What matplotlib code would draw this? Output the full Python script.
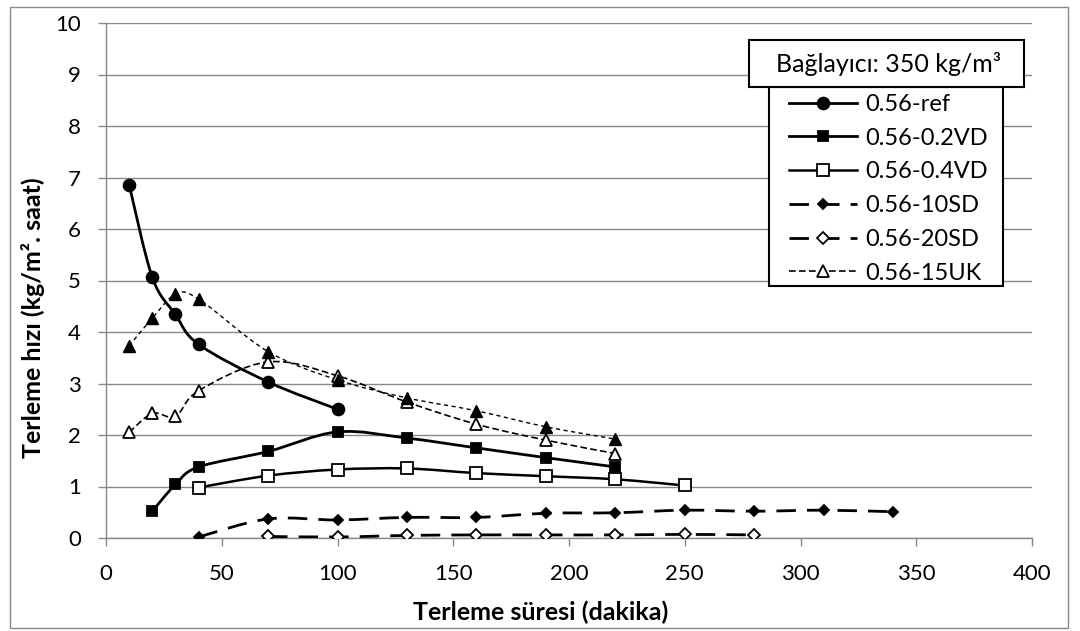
import numpy as np
import matplotlib
matplotlib.use("Agg")
import matplotlib.pyplot as plt
from matplotlib.path import Path
from matplotlib.patches import PathPatch, Rectangle
from matplotlib.lines import Line2D

plt.rcParams['font.family'] = ['Lato', 'DejaVu Sans']

# Data
x_ref = [10, 20, 30, 40, 70, 100]
y_ref = [6.86, 5.06, 4.34, 3.76, 3.03, 2.50]

x_02vd = [20, 30, 40, 70, 100, 130, 160, 190, 220]
y_02vd = [0.52, 1.04, 1.38, 1.68, 2.06, 1.94, 1.75, 1.56, 1.38]

x_04vd = [40, 70, 100, 130, 160, 190, 220, 250]
y_04vd = [0.98, 1.21, 1.33, 1.35, 1.26, 1.20, 1.14, 1.02]

x_10sd = [40, 70, 100, 130, 160, 190, 220, 250, 280, 310, 340]
y_10sd = [0.02, 0.37, 0.35, 0.40, 0.40, 0.48, 0.49, 0.54, 0.52, 0.54, 0.51]

x_20sd = [70, 100, 130, 160, 190, 220, 250, 280]
y_20sd = [0.03, 0.02, 0.05, 0.06, 0.06, 0.06, 0.07, 0.06]

x_15uk = [10, 20, 30, 40, 70, 100, 130, 160, 190, 220]
y_15uk = [2.05, 2.42, 2.36, 2.86, 3.42, 3.15, 2.64, 2.21, 1.90, 1.64]

# extra series drawn in the chart but missing from its legend
x_tri = [10, 20, 30, 40, 70, 100, 130, 160, 190, 220]
y_tri = [3.73, 4.27, 4.73, 4.64, 3.62, 3.07, 2.72, 2.47, 2.16, 1.92]

labels = ['0.56-ref', '0.56-0.2VD', '0.56-0.4VD', '0.56-10SD', '0.56-20SD', '0.56-15UK']


# Excel-like smoothed line (Catmull-Rom as cubic Bezier)
def smooth_path(xs, ys):
    p = np.column_stack([xs, ys]).astype(float)
    verts = [p[0]]
    codes = [Path.MOVETO]
    n = len(p)
    for i in range(n - 1):
        p0 = p[i - 1] if i > 0 else p[i]
        p3 = p[i + 2] if i + 2 < n else p[i + 1]
        c1 = p[i] + (p[i + 1] - p0) / 6.0
        c2 = p[i + 1] - (p3 - p[i]) / 6.0
        verts += [c1, c2, p[i + 1]]
        codes += [Path.CURVE4] * 3
    return Path(verts, codes)


fig = plt.figure(figsize=(10.8, 6.31), dpi=100)
ax = fig.add_axes([106 / 1080, 1 - 538 / 631, 926 / 1080, 515 / 631])

grey = '#898989'
fs = 16

series = [
    (x_ref, y_ref, 'o', 'black', 8.5, '-', 2.0),
    (x_02vd, y_02vd, 's', 'black', 7.5, '-', 2.0),
    (x_04vd, y_04vd, 's', 'white', 8.5, '-', 1.8),
    (x_10sd, y_10sd, 'D', 'black', 5.5, (0, (7, 4)), 2.0),
    (x_20sd, y_20sd, 'D', 'white', 6.5, (0, (7, 4)), 2.0),
    (x_15uk, y_15uk, '^', 'white', 9, (0, (4, 2)), 1.2),
]

handles = []
for xs, ys, m, fc, ms, ls, lw in series:
    ax.add_patch(PathPatch(smooth_path(xs, ys), fill=False, edgecolor='black',
                           lw=lw, ls=ls, zorder=3))
    ax.plot(xs, ys, ls='none', marker=m, ms=ms, mfc=fc, mec='black', mew=1.3, zorder=4)
    handles.append(Line2D([], [], color='black', lw=lw, ls=ls, marker=m, ms=ms,
                          mfc=fc, mec='black', mew=1.3))

ax.add_patch(PathPatch(smooth_path(x_tri, y_tri), fill=False, edgecolor='black',
                       lw=1.0, ls=(0, (3, 2.5)), zorder=3))
ax.plot(x_tri, y_tri, ls='none', marker='^', ms=8, mfc='black', mec='black', zorder=4)

ax.set_xlim(0, 400)
ax.set_ylim(0, 10)
ax.set_xticks(np.arange(0, 401, 50))
ax.set_yticks(np.arange(0, 11, 1))
ax.grid(axis='y', color=grey, lw=1.0)
ax.set_axisbelow(True)
for s in ['top', 'right']:
    ax.spines[s].set_visible(False)
for s in ['left', 'bottom']:
    ax.spines[s].set_color(grey)
    ax.spines[s].set_linewidth(1.0)
ax.tick_params(axis='both', direction='out', length=6, width=1.0, color=grey,
               labelsize=fs)
ax.tick_params(axis='x', pad=13)
ax.tick_params(axis='y', pad=12)

ax.text(0.469, (538 - 612) / 515, 'Terleme süresi (dakika)', transform=ax.transAxes,
        ha='center', va='center', fontsize=18, fontweight='bold')
ax.text(-0.079, 0.427, 'Terleme hızı (kg/m². saat)', transform=ax.transAxes,
        ha='center', va='center', rotation=90, fontsize=18, fontweight='bold')

# legend frame drawn by hand, with a separate title box on top
fig.patches.append(Rectangle((769 / 1080, 1 - 286 / 631), 234 / 1080, 199 / 631,
                             transform=fig.transFigure, facecolor='white',
                             edgecolor='black', lw=1.5, zorder=4))
leg = fig.legend(handles, labels, loc='upper left',
                 bbox_to_anchor=(789 / 1080, 1 - 94 / 631), fontsize=17,
                 frameon=False, handlelength=2.9, handletextpad=0.35,
                 labelspacing=0.54, borderpad=0, borderaxespad=0)
leg.set_zorder(5)

fig.patches.append(Rectangle((749 / 1080, 1 - 87 / 631), 275 / 1080, 47 / 631,
                             transform=fig.transFigure, facecolor='white',
                             edgecolor='black', lw=1.5, zorder=5))
fig.text(889 / 1080, 1 - 64 / 631, 'Bağlayıcı: 350 kg/m³', ha='center', va='center',
         fontsize=18, zorder=6)

# outer chart border
fig.patches.append(Rectangle((10 / 1080, 3 / 631), 1058 / 1080, 621 / 631,
                             transform=fig.transFigure, fill=False,
                             edgecolor=grey, lw=1.0))

fig.savefig('out.png', dpi=100)
